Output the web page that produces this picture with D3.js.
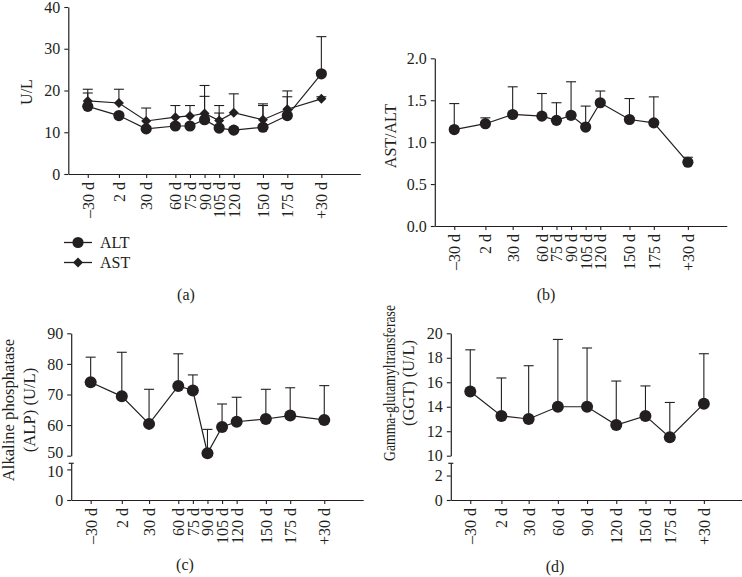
<!DOCTYPE html>
<html><head><meta charset="utf-8">
<script src="https://cdn.jsdelivr.net/npm/d3@7"></script>
<style>
body{margin:0;background:#fff;}
svg text{font-family:"Liberation Serif","Times New Roman",serif;fill:#231f20;}
</style></head><body>
<svg id="chart" width="742" height="577"></svg>
<script>
// ---------- data ----------
const labelsFull = ["–30 d","2 d","30 d","60 d","75 d","90 d","105 d","120 d","150 d","175 d","+30 d"];
const daysFull   = [-30, 2, 30, 60, 75, 90, 105, 120, 150, 175, 210];

const altMean  = [16.2, 14.0, 10.8, 11.5, 11.5, 13.0, 11.0, 10.5, 11.2, 14.0, 24.0];
const altUpper = [19.4, 14.5, 11.3, 12.0, 12.0, 18.6, 14.6, 11.0, 16.4, 18.5, 32.9];
const astMean  = [17.5, 17.0, 12.7, 13.6, 13.9, 14.5, 12.8, 14.7, 13.0, 15.5, 18.0];
const astUpper = [20.3, 20.3, 15.8, 16.4, 16.4, 21.2, 16.4, 19.2, 16.8, 19.9, 18.5];

const ratioMean  = [1.15, 1.22, 1.33, 1.31, 1.26, 1.32, 1.18, 1.47, 1.27, 1.23, 0.76];
const ratioUpper = [1.46, 1.29, 1.66, 1.58, 1.47, 1.72, 1.43, 1.61, 1.52, 1.54, 0.82];

const alpMean  = [74.0, 69.4, 60.4, 72.8, 71.3, 50.8, 59.4, 61.1, 62.0, 63.1, 61.7];
const alpUpper = [82.2, 83.8, 71.7, 83.3, 76.4, 58.6, 66.9, 69.1, 71.7, 72.2, 72.9];

const labelsGGT = ["–30 d","2 d","30 d","60 d","90 d","120 d","150 d","175 d","+30 d"];
const daysGGT   = [-30, 2, 30, 60, 90, 120, 150, 175, 210];
const ggtMean  = [15.25, 13.25, 13.0, 14.0, 14.0, 12.5, 13.25, 11.5, 14.25];
const ggtUpper = [18.65, 16.35, 17.35, 19.5, 18.8, 16.1, 15.7, 14.35, 18.33];

const ticksA = [0, 10, 20, 30, 40];
const ticksB = [0, 0.5, 1.0, 1.5, 2.0];
const ticksCUp = [50, 60, 70, 80, 90], ticksCLo = [0, 10];
const ticksDUp = [10, 12, 14, 16, 18, 20], ticksDLo = [0, 2];

// ---------- drawing ----------
const svg = d3.select("#chart");
const INK = "#231f20";
const FONT = '"Liberation Serif","Times New Roman",serif';

function xAxis(g, x, yBase, days, labels){
  const a = g.append("g").attr("transform", `translate(0,${yBase})`)
    .call(d3.axisBottom(x).tickValues(days).tickFormat((d,i)=>labels[i]).tickSize(4).tickSizeOuter(0));
  a.attr("font-size", 16).attr("font-family", FONT).attr("color", INK);
  a.selectAll("text").attr("y", null).attr("x", null).attr("dy", "0.34em")
    .attr("text-anchor", "end").attr("transform", "translate(0,8) rotate(-90)");
  a.select(".domain").attr("stroke-width", 1.2);
  a.selectAll(".tick line").attr("stroke-width", 1.1);
}
function yAxis(g, x0, y, ticks, fmt){
  const a = g.append("g").attr("transform", `translate(${x0},0)`)
    .call(d3.axisLeft(y).tickValues(ticks).tickFormat(fmt).tickSize(4).tickPadding(4).tickSizeOuter(0));
  a.attr("font-size", 16).attr("font-family", FONT).attr("color", INK);
  a.select(".domain").attr("stroke-width", 1.2);
  a.selectAll(".tick line").attr("stroke-width", 1.1);
  return a;
}
function series(g, x, y, days, mean, upper, shape, r){
  const pts = days.map((d,i)=>({d, m: mean[i], u: upper[i]}));
  const eb = g.append("g").attr("stroke", INK).attr("stroke-width", 1.1);
  eb.selectAll(".stem").data(pts).join("line")
    .attr("x1", p=>x(p.d)).attr("x2", p=>x(p.d)).attr("y1", p=>y(p.m)).attr("y2", p=>y(p.u));
  eb.selectAll(".cap").data(pts).join("line")
    .attr("x1", p=>x(p.d)-5).attr("x2", p=>x(p.d)+5).attr("y1", p=>y(p.u)).attr("y2", p=>y(p.u));
  return {pts, draw(){
    g.append("path").datum(pts).attr("fill","none").attr("stroke",INK).attr("stroke-width",1.2)
      .attr("d", d3.line().x(p=>x(p.d)).y(p=>y(p.m)));
  }, marks(){
    if(shape==="circle"){
      g.append("g").selectAll("circle").data(pts).join("circle")
        .attr("cx", p=>x(p.d)).attr("cy", p=>y(p.m)).attr("r", r).attr("fill", INK);
    } else {
      const sym = d3.symbol(d3.symbolSquare, r);
      g.append("g").selectAll("path").data(pts).join("path")
        .attr("d", sym).attr("fill", INK)
        .attr("transform", p=>`translate(${x(p.d)},${y(p.m)}) rotate(45)`);
    }
  }};
}
function yLabel(g, lines, xs, cy, size, lens){
  lines.forEach((t,i)=>{
    const tx = g.append("text").attr("transform", `translate(${xs[i]},${cy}) rotate(-90)`)
      .attr("text-anchor","middle").attr("font-size",size).text(t);
    if(lens && lens[i]) tx.attr("textLength", lens[i]).attr("lengthAdjust","spacingAndGlyphs");
  });
}
function letter(g, t, cx, by){
  g.append("text").attr("x",cx).attr("y",by).attr("text-anchor","middle").attr("font-size",16).text(t);
}
const xDomain = [-50, 250], xLen = 292;

// ----- panel (a) -----
{
  const g = svg.append("g");
  const x0 = 68.3;
  const x = d3.scaleLinear().domain(xDomain).range([x0, x0+xLen]);
  const y = d3.scaleLinear().domain([0,40]).range([174, 7]);
  xAxis(g, x, 174, daysFull, labelsFull);
  yAxis(g, x0, y, ticksA, d3.format("d"));
  const s1 = series(g, x, y, daysFull, astMean, astUpper, "diamond", 50);
  const s2 = series(g, x, y, daysFull, altMean, altUpper, "circle", 5.6);
  s1.draw(); s2.draw(); s2.marks(); s1.marks();
  yLabel(g, ["U/L"], [32], 92, 16);
  // legend
  const lg = g.append("g");
  const lx = d3.scaleLinear().domain([0,1]).range([64, 92]);
  const ly = d3.scaleBand().domain(["ALT","AST"]).range([232.5, 272.5]);
  ["ALT","AST"].forEach(k=>{
    const yy = ly(k) + ly.bandwidth()/2;
    lg.append("line").attr("x1",lx(0)).attr("x2",lx(1)).attr("y1",yy).attr("y2",yy).attr("stroke",INK).attr("stroke-width",1.3);
    if(k==="ALT") lg.append("circle").attr("cx",lx(0.5)).attr("cy",yy).attr("r",5.6).attr("fill",INK);
    else lg.append("path").attr("d", d3.symbol(d3.symbolSquare, 50)).attr("fill",INK).attr("transform",`translate(${lx(0.5)},${yy}) rotate(45)`);
    lg.append("text").attr("x",100).attr("y",yy).attr("dy","0.35em").attr("font-size",16).text(k);
  });
  letter(g, "(a)", 186, 300);
}

// ----- panel (b) -----
{
  const g = svg.append("g");
  const x0 = 434.8;
  const x = d3.scaleLinear().domain(xDomain).range([x0, x0+xLen]);
  const y = d3.scaleLinear().domain([0,2]).range([226, 58.3]);
  xAxis(g, x, 226, daysFull, labelsFull);
  yAxis(g, x0, y, ticksB, d3.format(".1f"));
  const s = series(g, x, y, daysFull, ratioMean, ratioUpper, "circle", 5.6);
  s.draw(); s.marks();
  yLabel(g, ["AST/ALT"], [396], 136, 16);
  letter(g, "(b)", 546, 300);
}

// ----- panel (c) -----
{
  const g = svg.append("g");
  const x0 = 71.2;
  const x = d3.scaleLinear().domain(xDomain).range([x0, x0+xLen]);
  const yUp = d3.scaleLinear().domain([50,90]).range([455.7, 333.3]);
  const yLo = d3.scaleLinear().domain([0,12]).range([500, 463.3]);
  xAxis(g, x, 500, daysFull, labelsFull);
  const ua = yAxis(g, x0, yUp, ticksCUp, d3.format("d"));
  const la = yAxis(g, x0, yLo, ticksCLo, d3.format("d"));
  ua.selectAll(".tick text").filter(d=>d===50).attr("dy","0.1em");
  la.selectAll(".tick text").filter(d=>d===10).attr("dy","0.42em");
  g.append("line").attr("x1",x0-2.5).attr("x2",x0+2.5).attr("y1",yLo(12)).attr("y2",yLo(12)).attr("stroke",INK).attr("stroke-width",1.2);
  const s = series(g, x, yUp, daysFull, alpMean, alpUpper, "circle", 6);
  s.draw(); s.marks();
  yLabel(g, ["Alkaline phosphatase","(ALP) (U/L)"], [14, 35], 410, 16.6);
  letter(g, "(c)", 185, 570);
}

// ----- panel (d) -----
{
  const g = svg.append("g");
  const x0 = 450.8;
  const x = d3.scaleLinear().domain(xDomain).range([x0, x0+xLen]);
  const yUp = d3.scaleLinear().domain([10,20]).range([455.7, 333.3]);
  const yLo = d3.scaleLinear().domain([0,3]).range([500, 463.3]);
  xAxis(g, x, 500, daysGGT, labelsGGT);
  yAxis(g, x0, yUp, ticksDUp, d3.format("d"));
  yAxis(g, x0, yLo, ticksDLo, d3.format("d"));
  g.append("line").attr("x1",x0-2.5).attr("x2",x0+2.5).attr("y1",yLo(3)).attr("y2",yLo(3)).attr("stroke",INK).attr("stroke-width",1.2);
  const s = series(g, x, yUp, daysGGT, ggtMean, ggtUpper, "circle", 6);
  s.draw(); s.marks();
  yLabel(g, ["Gamma-glutamyltransferase","(GGT) (U/L)"], [395, 414], 383, 16.4, [156, null]);
  letter(g, "(d)", 555, 572);
}
</script>
</body></html>
